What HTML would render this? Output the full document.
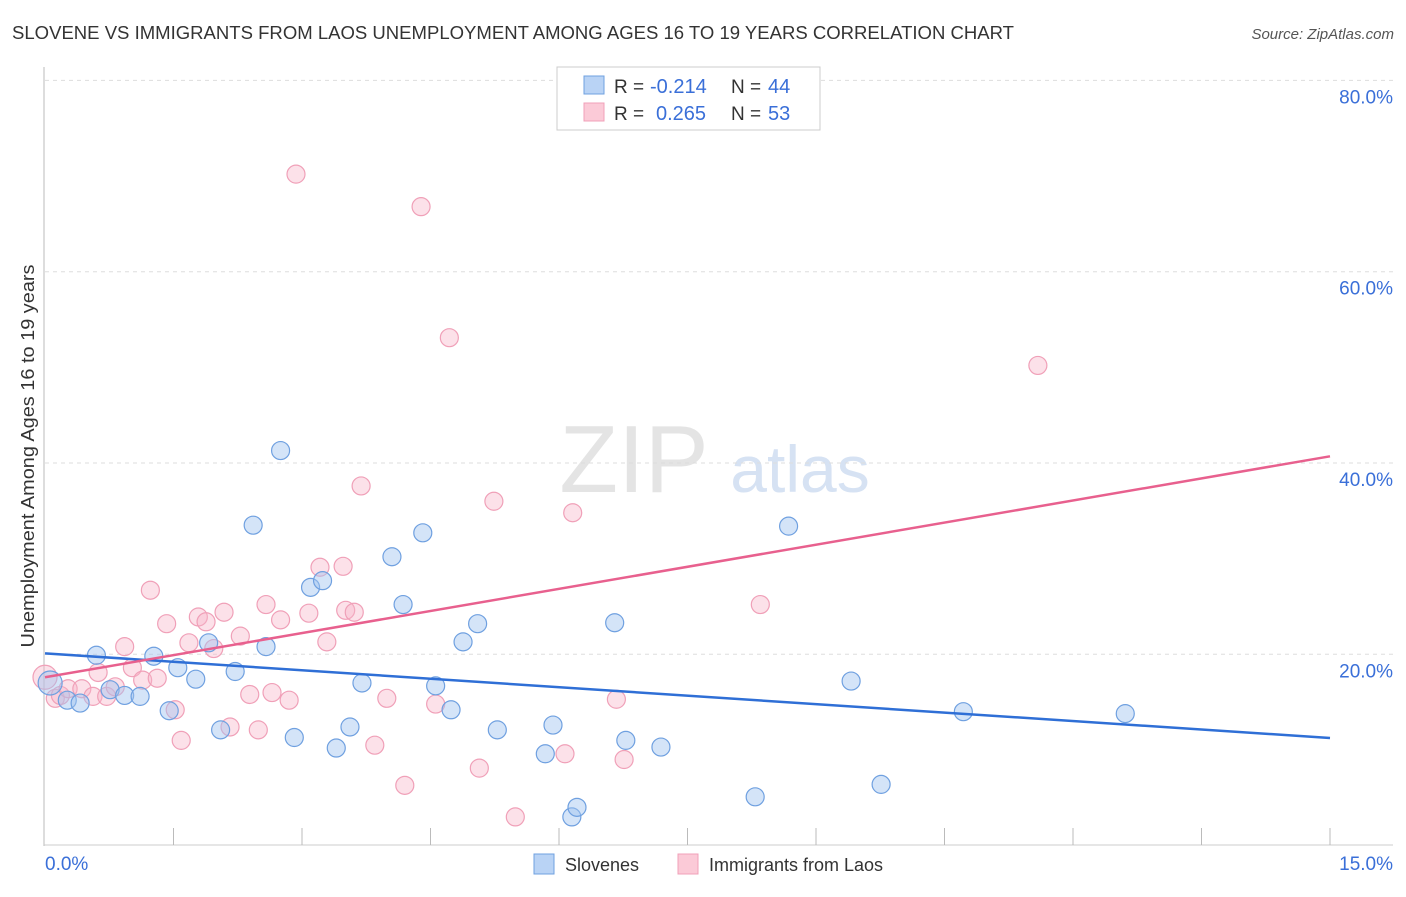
<!DOCTYPE html>
<html><head><meta charset="utf-8"><style>
body{margin:0;background:#fff;font-family:"Liberation Sans",sans-serif}
svg text{font-family:"Liberation Sans",sans-serif}
</style></head><body>
<svg id="chart" width="1406" height="892">
<text x="12" y="39" font-size="18" fill="#333" textLength="1002" lengthAdjust="spacingAndGlyphs">SLOVENE VS IMMIGRANTS FROM LAOS UNEMPLOYMENT AMONG AGES 16 TO 19 YEARS CORRELATION CHART</text>
<text x="1394" y="39" font-size="15" fill="#555" font-style="italic" text-anchor="end">Source: ZipAtlas.com</text>
<text x="634" y="492" font-size="96" fill="#e4e4e4" font-family="Liberation Serif" text-anchor="middle">ZIP</text>
<text x="800" y="492" font-size="66" fill="#d6e2f3" text-anchor="middle">atlas</text>
<text transform="translate(34,456) rotate(-90)" font-size="18" fill="#333" text-anchor="middle" textLength="383" lengthAdjust="spacingAndGlyphs">Unemployment Among Ages 16 to 19 years</text>
<g id="grid"></g><g id="marks"></g>
<g>
<rect x="557" y="67" width="263" height="63" fill="#fff" stroke="#ccc"/>
<rect x="584" y="76" width="20" height="18" fill="#b9d3f5" stroke="#6fa0e0"/>
<rect x="584" y="103" width="20" height="18" fill="#fbcad7" stroke="#f0a0b8"/>
<text x="614" y="93" font-size="19" fill="#333">R =</text>
<text x="650" y="93" font-size="20" fill="#3a6fd8">-0.214</text>
<text x="731" y="93" font-size="19" fill="#333">N =</text>
<text x="768" y="93" font-size="20" fill="#3a6fd8">44</text>
<text x="614" y="120" font-size="19" fill="#333">R =</text>
<text x="656" y="120" font-size="20" fill="#3a6fd8">0.265</text>
<text x="731" y="120" font-size="19" fill="#333">N =</text>
<text x="768" y="120" font-size="20" fill="#3a6fd8">53</text>
</g>
<g>
<rect x="534" y="854" width="20" height="20" fill="#b9d3f5" stroke="#6fa0e0"/>
<text x="565" y="871" font-size="18" fill="#333">Slovenes</text>
<rect x="678" y="854" width="20" height="20" fill="#fbcad7" stroke="#f0a0b8"/>
<text x="709" y="871" font-size="18" fill="#333">Immigrants from Laos</text>
</g>
</svg>
<script>
const yTicks=[20,40,60,80];
const yTickLabels=["20.0%","40.0%","60.0%","80.0%"];
const xTickLabels=["0.0%","15.0%"];
const blueX=[0.06,0.26,0.41,0.60,0.76,0.93,1.11,1.27,1.45,1.55,1.76,1.91,2.05,2.22,2.43,2.58,2.75,2.91,3.10,3.24,3.40,3.56,3.70,4.05,4.18,4.41,4.56,4.74,4.88,5.05,5.28,5.84,5.93,6.15,6.21,6.65,6.78,7.19,8.29,8.68,9.41,9.76,10.72,12.61];
const blueY=[17.0,15.2,14.9,19.9,16.3,15.7,15.6,19.8,14.1,18.6,17.4,21.2,12.1,18.2,33.5,20.8,41.3,11.3,27.0,27.7,10.2,12.4,17.0,30.2,25.2,32.7,16.7,14.2,21.3,23.2,12.1,9.6,12.6,3.0,4.0,23.3,11.0,10.3,5.1,33.4,17.2,6.4,14.0,13.8];
const pinkX=[0,0.12,0.18,0.27,0.43,0.56,0.62,0.72,0.82,0.93,1.02,1.14,1.23,1.31,1.42,1.52,1.59,1.68,1.79,1.88,1.97,2.09,2.16,2.28,2.39,2.49,2.58,2.65,2.75,2.85,2.93,3.08,3.21,3.29,3.48,3.51,3.61,3.69,3.85,3.99,4.20,4.39,4.56,4.72,5.07,5.24,5.49,6.07,6.16,6.67,6.76,8.35,11.59];
const pinkY=[17.6,15.4,15.7,16.4,16.4,15.6,18.1,15.6,16.6,20.8,18.6,17.3,26.7,17.5,23.2,14.2,11.0,21.2,23.9,23.4,20.6,24.4,12.4,21.9,15.8,12.1,25.2,16.0,23.6,15.2,70.2,24.3,29.1,21.3,29.2,24.6,24.4,37.6,10.5,15.4,6.3,66.8,14.8,53.1,8.1,36.0,3.0,9.6,34.8,15.3,9.0,25.2,50.2];
const blueTrend=[20.1,11.25];
const pinkTrend=[17.6,40.7];
const NS="http://www.w3.org/2000/svg";
const X=v=>45+v*(1285/15);
const Y=v=>845.6-v*9.565;
function mk(t,a,p){const e=document.createElementNS(NS,t);for(const k in a)e.setAttribute(k,a[k]);p.appendChild(e);return e;}
const grid=document.getElementById('grid'),marks=document.getElementById('marks');
yTicks.forEach((t,i)=>{
 const l=mk('line',{x1:45,x2:1393,y1:Y(t),y2:Y(t),stroke:'#ddd','stroke-dasharray':'4,4'},grid);
 
 
 const tx=mk('text',{x:1393,y:Y(t)+23,'font-size':19,fill:'#3a6fd8','text-anchor':'end'},grid);
 tx.textContent=yTickLabels[i];
 
 
});
const ax=mk('line',{x1:44,x2:44,y1:67,y2:846,stroke:'#bbb'},grid);


const bx=mk('line',{x1:44,x2:1393,y1:845,y2:845,stroke:'#ccc'},grid);


for(let i=1;i<=10;i++){
 const tk=mk('line',{x1:X(i*1.5),x2:X(i*1.5),y1:828,y2:845,stroke:'#bbb'},grid);
 
 
}
[[0,'start',45],[15,'end',1393]].forEach((d,i)=>{
 const t=mk('text',{x:d[2],y:870,'font-size':19,fill:'#3a6fd8','text-anchor':d[1]},grid);
 t.textContent=xTickLabels[i];
 
 
});
function pts(xs,ys,fill,stroke,name){
 xs.forEach((x,i)=>{
  const c=mk('circle',{cx:X(x),cy:Y(ys[i]),r:i==0?12:9,fill:fill,stroke:stroke,'stroke-width':1.2},marks);
  
  
 });
}
pts(pinkX,pinkY,'rgba(248,180,200,0.4)','#f0a0b8','laos-point');
pts(blueX,blueY,'rgba(160,196,240,0.45)','#6fa0e0','slovene-point');
const bl=mk('line',{x1:X(0),x2:X(15),y1:Y(blueTrend[0]),y2:Y(blueTrend[1]),stroke:'#2f6fd6','stroke-width':2.5},marks);


const pl=mk('line',{x1:X(0),x2:X(15),y1:Y(pinkTrend[0]),y2:Y(pinkTrend[1]),stroke:'#e8608e','stroke-width':2.5},marks);


</script>
</body></html>
